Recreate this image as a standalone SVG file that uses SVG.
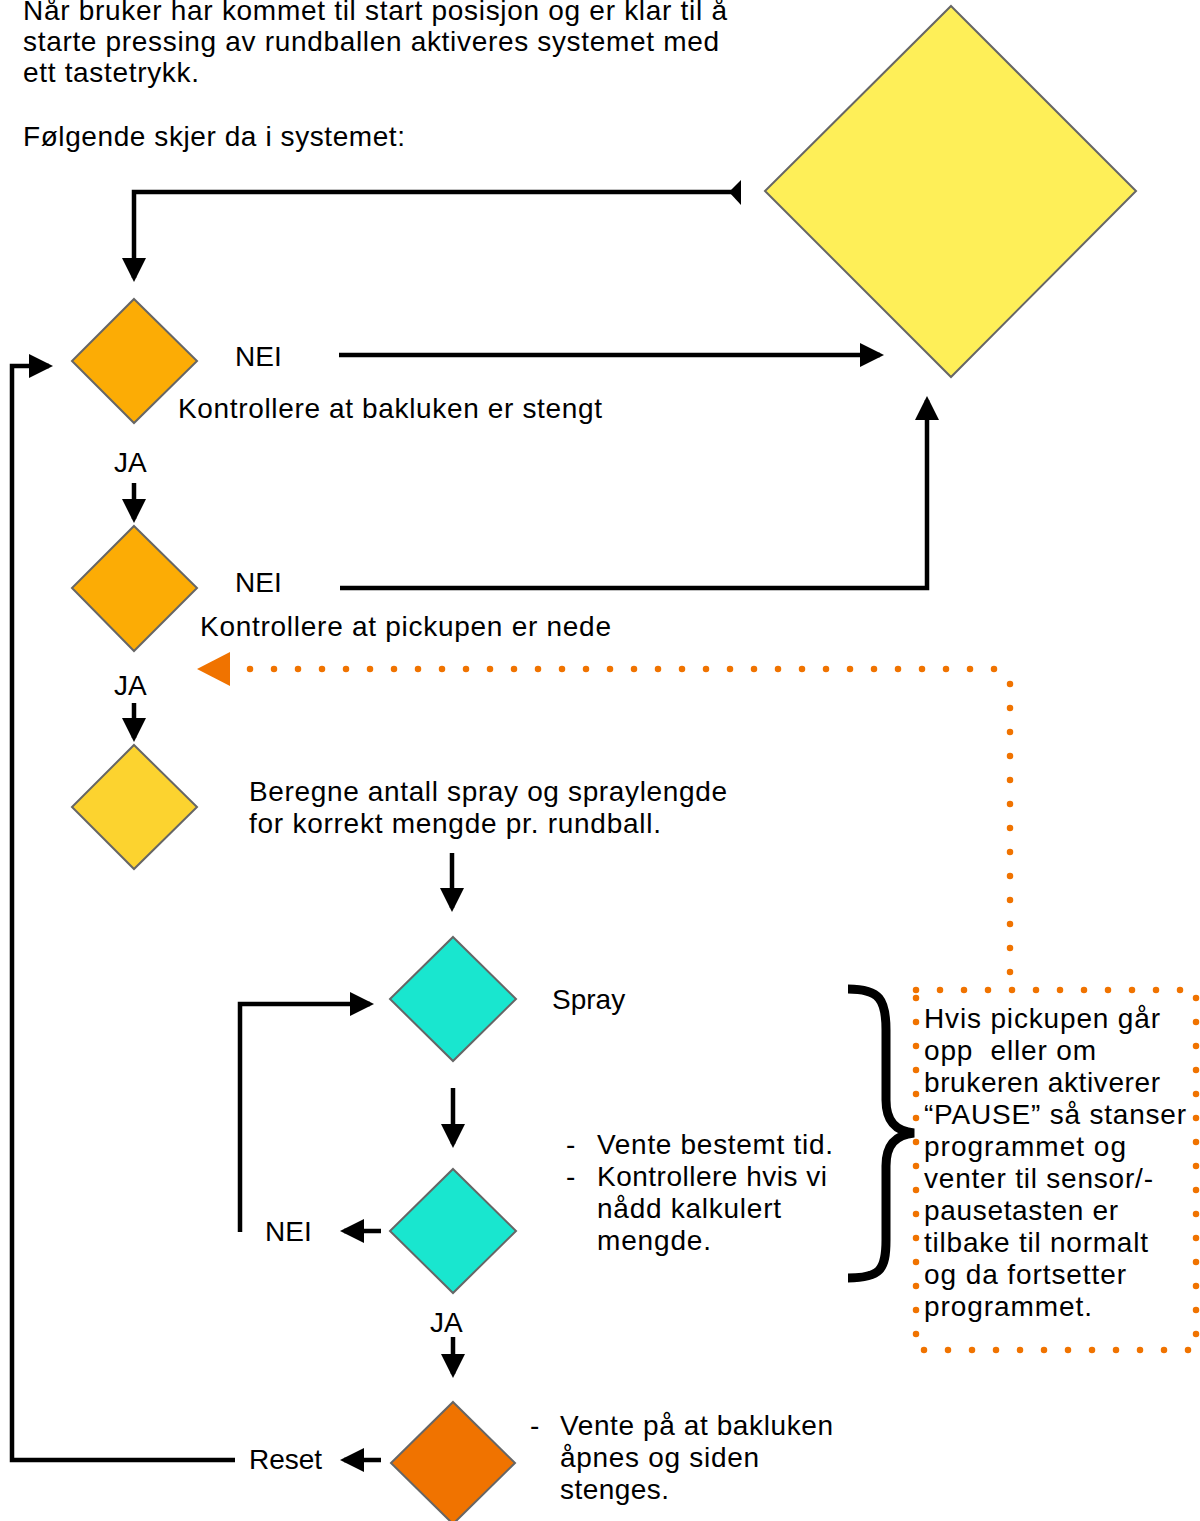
<svg xmlns="http://www.w3.org/2000/svg" width="1200" height="1521" viewBox="0 0 1200 1521">
<defs>
<style>
.t{font-family:"Liberation Sans",Arial,Helvetica,sans-serif;font-size:28px;fill:#000;white-space:pre}
.bx{font-size:28px}
.d{stroke:#666;stroke-width:2}
.c{fill:none;stroke:#000;stroke-width:4.5}
.dot{fill:none;stroke:#F07300;stroke-width:6.5;stroke-linecap:round;stroke-dasharray:0 24}
</style>
<marker id="ah" markerUnits="userSpaceOnUse" markerWidth="24" markerHeight="24" viewBox="0 0 24 24" refX="20" refY="12" orient="auto">
<path d="M0,0 L24,12 L0,24 Z" fill="#000"/>
</marker>
</defs>
<rect width="1200" height="1521" fill="#fff"/>

<g id="intro">
<text class="t" x="23" y="20" textLength="704">Når bruker har kommet til start posisjon og er klar til å</text>
<text class="t" x="23" y="51" textLength="696">starte pressing av rundballen aktiveres systemet med</text>
<text class="t" x="23" y="82" textLength="176">ett tastetrykk.</text>
<text class="t" x="23" y="146" textLength="382">Følgende skjer da i systemet:</text>
</g>

<g id="connectors">
<path class="c" d="M741,192 H134 V278" marker-end="url(#ah)"/>
<polygon points="729,192 741,180 741,205" fill="#000"/>
<path class="c" d="M339,355 H880" marker-end="url(#ah)"/>
<path class="c" d="M134,483 V519" marker-end="url(#ah)"/>
<path class="c" d="M340,588 H927 V400" marker-end="url(#ah)"/>
<path class="c" d="M134,703 V738" marker-end="url(#ah)"/>
<path class="c" d="M452,853 V908" marker-end="url(#ah)"/>
<path class="c" d="M240,1232 V1004 H370" marker-end="url(#ah)"/>
<path class="c" d="M453,1088 V1144" marker-end="url(#ah)"/>
<path class="c" d="M381,1231 H344" marker-end="url(#ah)"/>
<path class="c" d="M453,1337 V1374" marker-end="url(#ah)"/>
<path class="c" d="M381,1460 H344" marker-end="url(#ah)"/>
<path class="c" d="M235,1460 H12 V366 H49" marker-end="url(#ah)"/>
<path class="dot" d="M994,669 H246"/>
<path class="dot" d="M1010,684 V976"/>
<polygon points="197,669 230,652 230,686" fill="#F07300"/>
</g>

<g id="n-start">
<polygon class="d" points="951,6 1136,191 951,377 765,191" fill="#FEEF58"/>
</g>

<g id="n-bakluke">
<polygon class="d" points="134,299 197,361 134,423 72,361" fill="#FCAC05"/>
<text class="t" x="235" y="366">NEI</text>
<text class="t" x="178" y="418" textLength="424">Kontrollere at bakluken er stengt</text>
<text class="t" x="114" y="472">JA</text>
</g>

<g id="n-pickup">
<polygon class="d" points="134,526 197,588 134,651 72,588" fill="#FCAC05"/>
<text class="t" x="235" y="592">NEI</text>
<text class="t" x="200" y="636" textLength="411">Kontrollere at pickupen er nede</text>
<text class="t" x="114" y="695">JA</text>
</g>

<g id="n-beregne">
<polygon class="d" points="134,745 197,807 134,869 72,807" fill="#FCD32F"/>
<text class="t" x="249" y="801" textLength="478">Beregne antall spray og spraylengde</text>
<text class="t" x="249" y="833" textLength="412">for korrekt mengde pr. rundball.</text>
</g>

<g id="n-spray">
<polygon class="d" points="453,937 516,999 453,1061 390,999" fill="#19E6CF"/>
<text class="t" x="552" y="1009">Spray</text>
</g>

<g id="n-kontroll">
<polygon class="d" points="453,1169 516,1231 453,1293 390,1231" fill="#19E6CF"/>
<text class="t" x="566" y="1154">-</text>
<text class="t" x="597" y="1154" textLength="236">Vente bestemt tid.</text>
<text class="t" x="566" y="1186">-</text>
<text class="t" x="597" y="1186" textLength="230">Kontrollere hvis vi</text>
<text class="t" x="597" y="1218" textLength="184">nådd kalkulert</text>
<text class="t" x="597" y="1250" textLength="114">mengde.</text>
<text class="t" x="265" y="1241">NEI</text>
<text class="t" x="430" y="1332">JA</text>
</g>

<g id="n-reset">
<polygon class="d" points="453,1402 515,1463 453,1524 391,1463" fill="#F07300"/>
<text class="t" x="249" y="1469">Reset</text>
<text class="t" x="530" y="1435">-</text>
<text class="t" x="560" y="1435" textLength="273">Vente på at bakluken</text>
<text class="t" x="560" y="1467" textLength="199">åpnes og siden</text>
<text class="t" x="560" y="1499" textLength="109">stenges.</text>
</g>

<g id="n-pause">
<path d="M848,989 C880,989 886,1000 886,1030 L886,1100 C886,1122 896,1131 914,1133 C896,1135 886,1144 886,1166 L886,1240 C886,1270 880,1278 848,1278" fill="none" stroke="#000" stroke-width="9"/>
<rect class="dot" x="916" y="990" width="280" height="360"/>
<text class="t bx" x="924" y="1028" textLength="236">Hvis pickupen går</text>
<text class="t bx" x="924" y="1060" textLength="172">opp  eller om</text>
<text class="t bx" x="924" y="1092" textLength="236">brukeren aktiverer</text>
<text class="t bx" x="924" y="1124" textLength="262">“PAUSE” så stanser</text>
<text class="t bx" x="924" y="1156" textLength="202">programmet og</text>
<text class="t bx" x="924" y="1188" textLength="229">venter til sensor/-</text>
<text class="t bx" x="924" y="1220" textLength="194">pausetasten er</text>
<text class="t bx" x="924" y="1252" textLength="224">tilbake til normalt</text>
<text class="t bx" x="924" y="1284" textLength="202">og da fortsetter</text>
<text class="t bx" x="924" y="1316" textLength="168">programmet.</text>
</g>
</svg>
